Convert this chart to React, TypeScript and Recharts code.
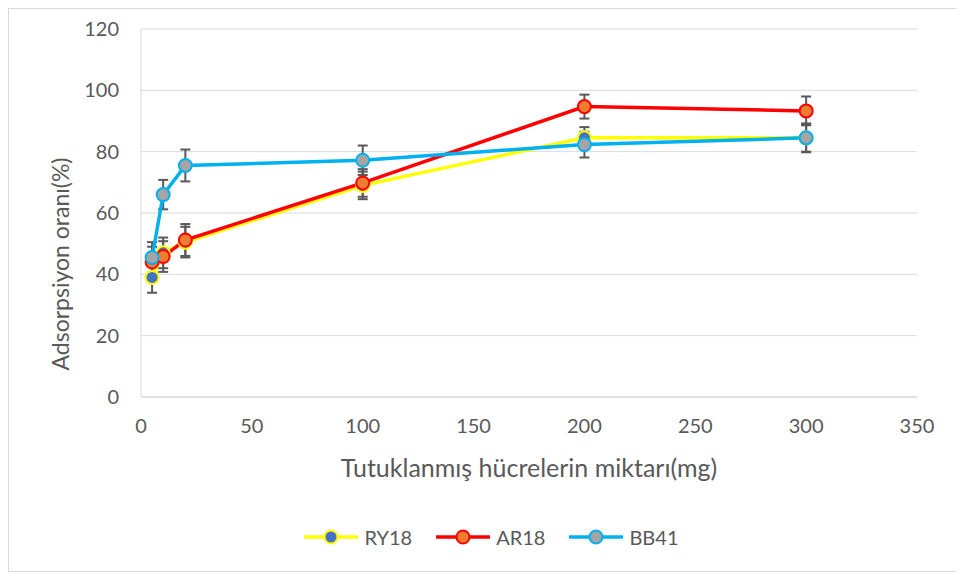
import React from 'react';
import { LineChart, Line, XAxis, YAxis, CartesianGrid, ErrorBar, Legend } from 'recharts';

const xValues = [5, 10, 20, 100, 200, 300];
const ry18 = [39, 47, 50.5, 69, 84.5, 84.5];
const ry18Err = [5, 5, 5, 4.5, 3.5, 4.5];
const ar18 = [44, 45.8, 51.2, 69.8, 94.7, 93.3];
const ar18Err = [5, 5, 5.2, 4.5, 3.9, 4.7];
const bb41 = [45.5, 66, 75.5, 77.2, 82.3, 84.5];
const bb41Err = [5, 4.8, 5.2, 4.8, 4.2, 4.7];
const xTicks = [0, 50, 100, 150, 200, 250, 300, 350];
const yTicks = [0, 20, 40, 60, 80, 100, 120];

const data = xValues.map((x, i) => ({
  x,
  ry: ry18[i], ryErr: ry18Err[i],
  ar: ar18[i], arErr: ar18Err[i],
  bb: bb41[i], bbErr: bb41Err[i],
}));

const FONT = 'Lato, "Open Sans", sans-serif';
const TEXT = '#595959';

const seriesStyle = [
  { name: 'RY18', line: '#FFFF00', fill: '#4472C4' },
  { name: 'AR18', line: '#FF0000', fill: '#ED7D31' },
  { name: 'BB41', line: '#00B0F0', fill: '#A5A5A5' },
];

const renderLegend = () => (
  <div style={{ display: 'flex', justifyContent: 'center', gap: 24, fontFamily: FONT, fontSize: 20, color: TEXT, paddingLeft: 17 }}>
    {seriesStyle.map((s) => (
      <div key={s.name} style={{ display: 'flex', alignItems: 'center' }}>
        <svg width={54} height={20}>
          <line x1={0} x2={54} y1={10} y2={10} stroke={s.line} strokeWidth={3.5} />
          <circle cx={27} cy={10} r={6.5} fill={s.fill} stroke={s.line} strokeWidth={2} />
        </svg>
        <span style={{ marginLeft: 6 }}>{s.name}</span>
      </div>
    ))}
  </div>
);

const YLabel = (props: any) => {
  const x = 51;
  const y = 255;
  return (
    <text x={x} y={y} transform={`rotate(-90 ${x} ${y})`} textAnchor="middle" dominantBaseline="central"
      fill={TEXT} fontFamily={FONT} fontSize={23}>Adsorpsiyon oranı(%)</text>
  );
};

const XLabel = (props: any) => {
  const vb = props.viewBox || { x: 132, y: 388, width: 776 };
  return (
    <text x={vb.x + vb.width / 2} y={vb.y + 70} textAnchor="middle" dominantBaseline="central"
      fill={TEXT} fontFamily={FONT} fontSize={25}>Tutuklanmış hücrelerin miktarı(mg)</text>
  );
};

export default function App() {
  return (
    <div style={{ width: 948, height: 562, border: '1px solid #d9d9d9', position: 'relative' }}>
      <LineChart width={948} height={562} data={data} margin={{ top: 20, right: 40, left: 0, bottom: 134 }}>
        <CartesianGrid vertical={false} stroke="#d9d9d9" strokeWidth={1} />
        <XAxis type="number" dataKey="x" domain={[0, 350]} ticks={xTicks} height={40}
          axisLine={{ stroke: '#d9d9d9' }} tickLine={false} tickSize={0} tickMargin={22}
          tick={{ fill: TEXT, fontFamily: FONT, fontSize: 20 }} label={<XLabel />} />
        <YAxis type="number" domain={[0, 120]} ticks={yTicks} width={132}
          axisLine={{ stroke: '#d9d9d9' }} tickLine={false} tickSize={0} tickMargin={22}
          tick={{ fill: TEXT, fontFamily: FONT, fontSize: 20 }} label={<YLabel />} />
        <Legend content={renderLegend} layout="horizontal" verticalAlign="middle" align="center"
          wrapperStyle={{ top: 516, left: 0, width: 948 }} />
        <Line type="linear" dataKey="ry" name="RY18" stroke="#FFFF00" strokeWidth={3.5} isAnimationActive={false}
          dot={{ r: 6.5, fill: '#4472C4', stroke: '#FFFF00', strokeWidth: 2 }}>
          <ErrorBar dataKey="ryErr" direction="y" width={5} stroke="#595959" strokeWidth={2} />
        </Line>
        <Line type="linear" dataKey="ar" name="AR18" stroke="#FF0000" strokeWidth={3.5} isAnimationActive={false}
          dot={{ r: 6.5, fill: '#ED7D31', stroke: '#FF0000', strokeWidth: 2 }}>
          <ErrorBar dataKey="arErr" direction="y" width={5} stroke="#595959" strokeWidth={2} />
        </Line>
        <Line type="linear" dataKey="bb" name="BB41" stroke="#00B0F0" strokeWidth={3.5} isAnimationActive={false}
          dot={{ r: 6.5, fill: '#A5A5A5', stroke: '#00B0F0', strokeWidth: 2 }}>
          <ErrorBar dataKey="bbErr" direction="y" width={5} stroke="#595959" strokeWidth={2} />
        </Line>
      </LineChart>
    </div>
  );
}
